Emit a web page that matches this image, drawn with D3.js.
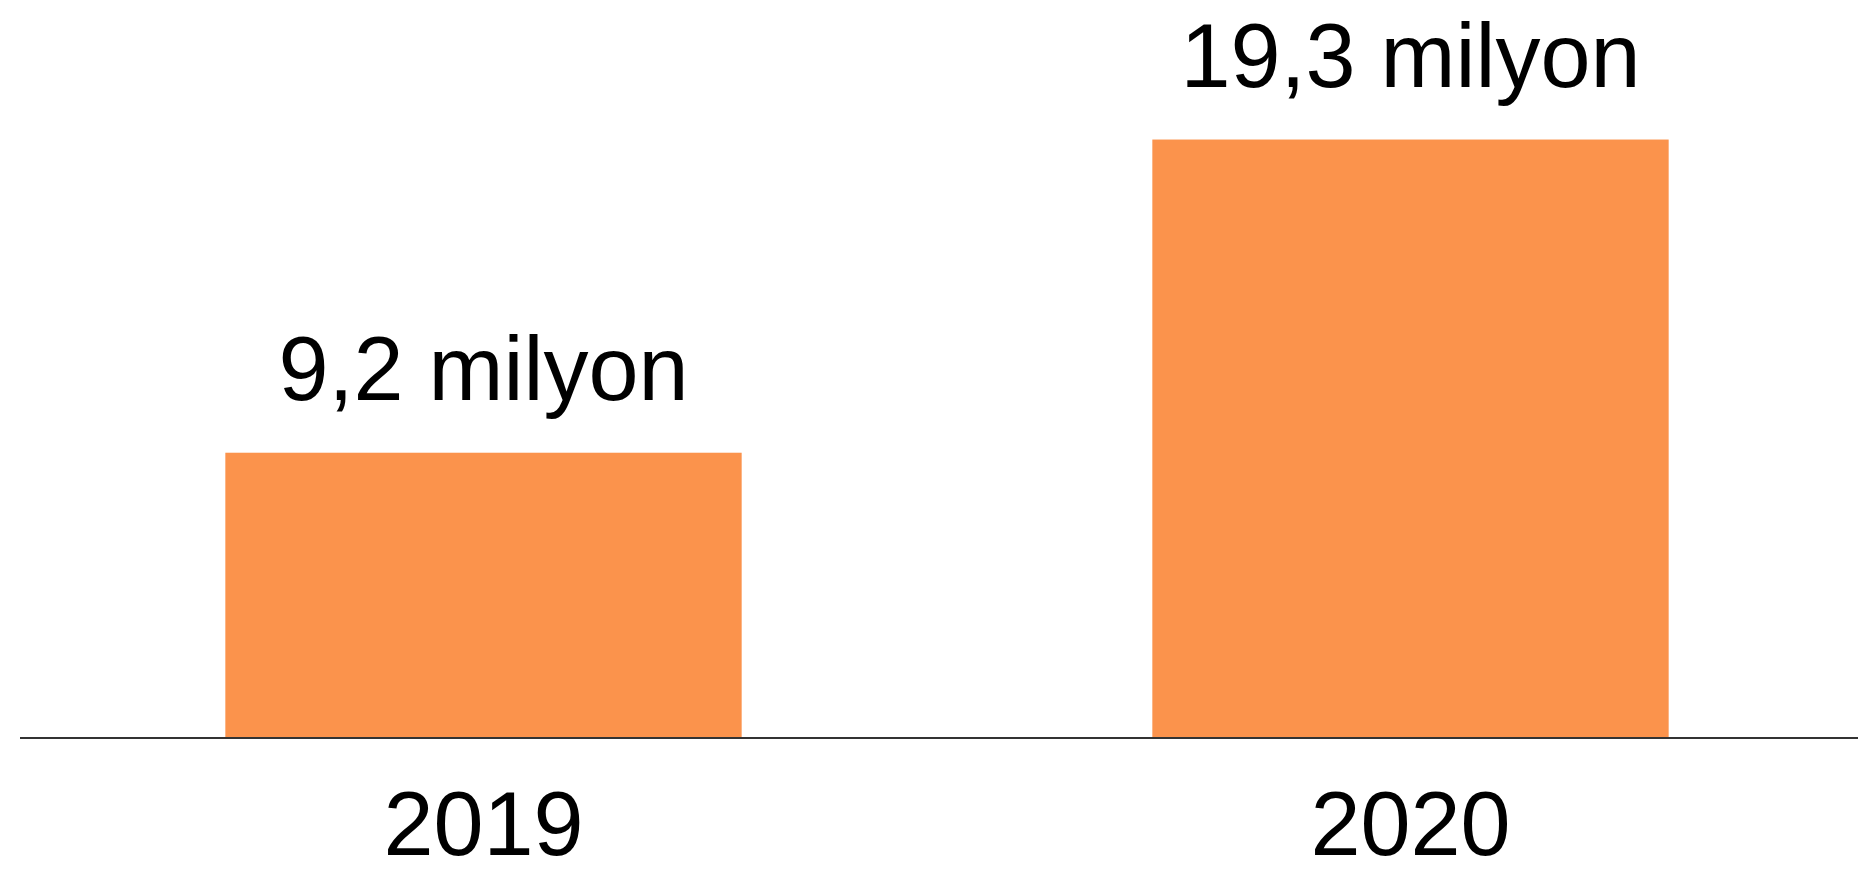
<!DOCTYPE html>
<html><head><meta charset="utf-8">
<script src="https://cdn.jsdelivr.net/npm/d3@7"></script>
<style>html,body{margin:0;padding:0;background:#fff;overflow:hidden}</style>
</head><body>
<svg id="c" width="1858" height="873"></svg>
<script>
const categories = ["2019", "2020"];
const values = [9.2, 19.3];
const valueLabels = ["9,2 milyon", "19,3 milyon"];

const svg = d3.select("#c");
const font = "'Liberation Sans', Arial, sans-serif";
const x = d3.scaleBand().domain(categories).range([20, 1874]).paddingInner(0.443).paddingOuter(0.2215);
const y = d3.scaleLinear().domain([0, 23.8]).range([738, 0]);

svg.selectAll("rect.bar").data(values).join("rect")
  .attr("class", "bar")
  .attr("x", (d, i) => x(categories[i]))
  .attr("width", x.bandwidth())
  .attr("y", d => y(d))
  .attr("height", d => y(0) - y(d))
  .attr("fill", "#FB934C");

svg.selectAll("text.val").data(values).join("text")
  .attr("class", "val")
  .attr("x", (d, i) => x(categories[i]) + x.bandwidth() / 2)
  .attr("y", d => y(d) - 53)
  .attr("text-anchor", "middle")
  .attr("font-family", font)
  .attr("font-size", 90)
  .attr("fill", "#000")
  .text((d, i) => valueLabels[i]);

const axis = d3.axisBottom(x).tickSize(0).tickPadding(0);
const g = svg.append("g").attr("transform", `translate(0,${y(0)})`).call(axis);
g.select(".domain").attr("d", "M20,0H1858").attr("stroke", "#333").attr("stroke-width", 2);
g.selectAll(".tick text")
  .attr("y", 117).attr("dy", 0)
  .attr("font-family", font)
  .attr("font-size", 90)
  .attr("fill", "#000");
</script>
</body></html>
